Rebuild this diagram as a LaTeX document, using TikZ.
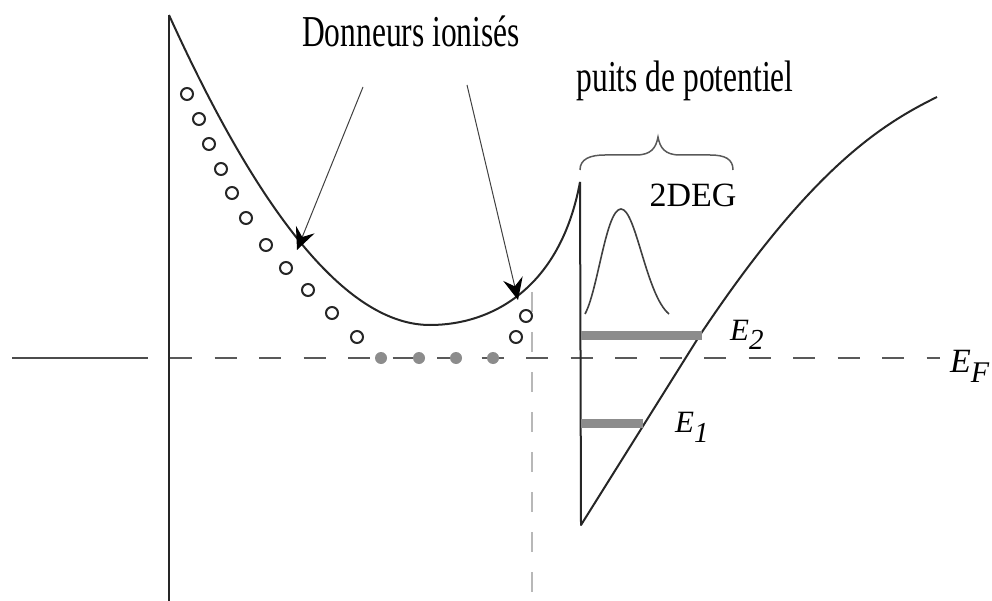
\documentclass[tikz,border=0pt]{standalone}
\usepackage{fontspec}
\setmainfont{Liberation Serif}
\usetikzlibrary{arrows.meta}
\begin{document}
\begin{tikzpicture}[x=1pt,y=-1pt,
  band/.style={line width=2pt, black!85, line join=round},
  fermi/.style={line width=2pt, black!65, dash pattern=on 22pt off 22.5pt},
  ionbox/.style={circle, draw=black!85, line width=2pt, minimum size=12pt, inner sep=0pt},
  elec/.style={circle, fill=black!45, minimum size=12pt, inner sep=0pt},
  levelbar/.style={line width=9pt, black!45},
  pointer/.style={line width=1pt, black!75, -{Stealth[length=22pt,width=20pt,inset=8pt,black]}},
  lbl/.style={inner sep=0pt, anchor=base, font=\fontsize{31.5}{36}\selectfont},
  elbl/.style={inner sep=0pt, anchor=base west, font=\fontsize{31}{36}\selectfont\itshape}]
\useasboundingbox (0,0) rectangle (992,601);

% Fermi level and left solid line
\coordinate (fl0) at (12,358);
\coordinate (fl1) at (148,358);
\coordinate (ef0) at (170,358);
\coordinate (ef1) at (940,358);
\draw[line width=2pt, black!70] (fl0) -- (fl1);
\draw[fermi] (ef0) -- (ef1);

% gray vertical dashed line
\coordinate (gv0) at (532,292);
\coordinate (gv1) at (532,601);
\draw[line width=2pt, black!28, dash pattern=on 20pt off 20pt] (gv0) -- (gv1);

% left vertical line
\coordinate (lv0) at (169,15);
\coordinate (lv1) at (169,601);
\draw[band] (lv0) -- (lv1);

% conduction band
\coordinate (cmin) at (430,325);
\coordinate (peak) at (580,182);
\coordinate (well) at (581,525);
\coordinate (cr) at (700,335);
\coordinate (tail) at (937,97);
\draw[band] (lv0) .. controls (263,222) and (350,325) .. (cmin) .. controls (490,325) and (560,290) .. (peak);
\draw[band] (peak) -- (well) -- (cr) .. controls (810,170) and (880,125) .. (tail);

% energy levels
\coordinate (e2a) at (581,335);
\coordinate (e2b) at (702,335);
\coordinate (e1a) at (581,423);
\coordinate (e1b) at (643,423);
\draw[levelbar] (e2a) -- (e2b);
\draw[levelbar] (e1a) -- (e1b);

% gaussian
\coordinate (g0) at (585,314);
\coordinate (gp) at (621,209);
\coordinate (g1) at (669,314);
\draw[line width=1.6pt, black!75] (g0) .. controls (598,290) and (606,209) .. (gp) .. controls (636,209) and (646,295) .. (g1);

% brace
\coordinate (b0) at (580,170);
\coordinate (bt) at (658,137);
\coordinate (b1) at (733,170);
\draw[line width=1.5pt, black!65] (b0) .. controls (580,159) and (590,155) .. (605,155) -- (636,155) .. controls (651,155) and (656,148) .. (bt) .. controls (660,148) and (665,155) .. (680,155) -- (710,155) .. controls (725,155) and (733,159) .. (b1);

% ionised donors
\foreach \n/\p in {1/{(187,94)},2/{(199,119)},3/{(209,144)},4/{(221,169)},5/{(232,193)},6/{(246,218)},7/{(266,245)},8/{(286,268)},9/{(308,290)},10/{(332,313)},11/{(357,337)},12/{(516,337)},13/{(526,316)}}
  \node[ionbox] (ion\n) at \p {};

% electrons
\foreach \n/\xx in {1/381,2/419,3/456,4/493}
  \node[elec] (el\n) at (\xx,358) {};

% labels
\node[lbl] (donneurs) at (411,47) {\scalebox{1}[1.4]{Donneurs ionisés}};
\node[lbl] (puits) at (685,92) {\scalebox{1}[1.4]{puits de potentiel}};
\node[lbl, font=\fontsize{34}{38}\selectfont] (deg) at (693,207) {2DEG};
\node[elbl] (E2) at (730,340) {E\raisebox{-9pt}{\fontsize{29}{30}\selectfont 2}};
\node[elbl] (E1) at (675,432) {E\raisebox{-10pt}{\fontsize{29}{30}\selectfont 1}};
\node[elbl, font=\fontsize{34}{38}\selectfont\itshape] (EF) at (950,372) {E\raisebox{-10pt}{\fontsize{30}{32}\selectfont F}};

% pointers
\coordinate (p1s) at (363,87);
\coordinate (p1e) at (297,250);
\coordinate (p2s) at (467,85);
\coordinate (p2e) at (518,300);
\draw[pointer] (p1s) -- (p1e);
\draw[pointer] (p2s) -- (p2e);
\end{tikzpicture}
\end{document}
